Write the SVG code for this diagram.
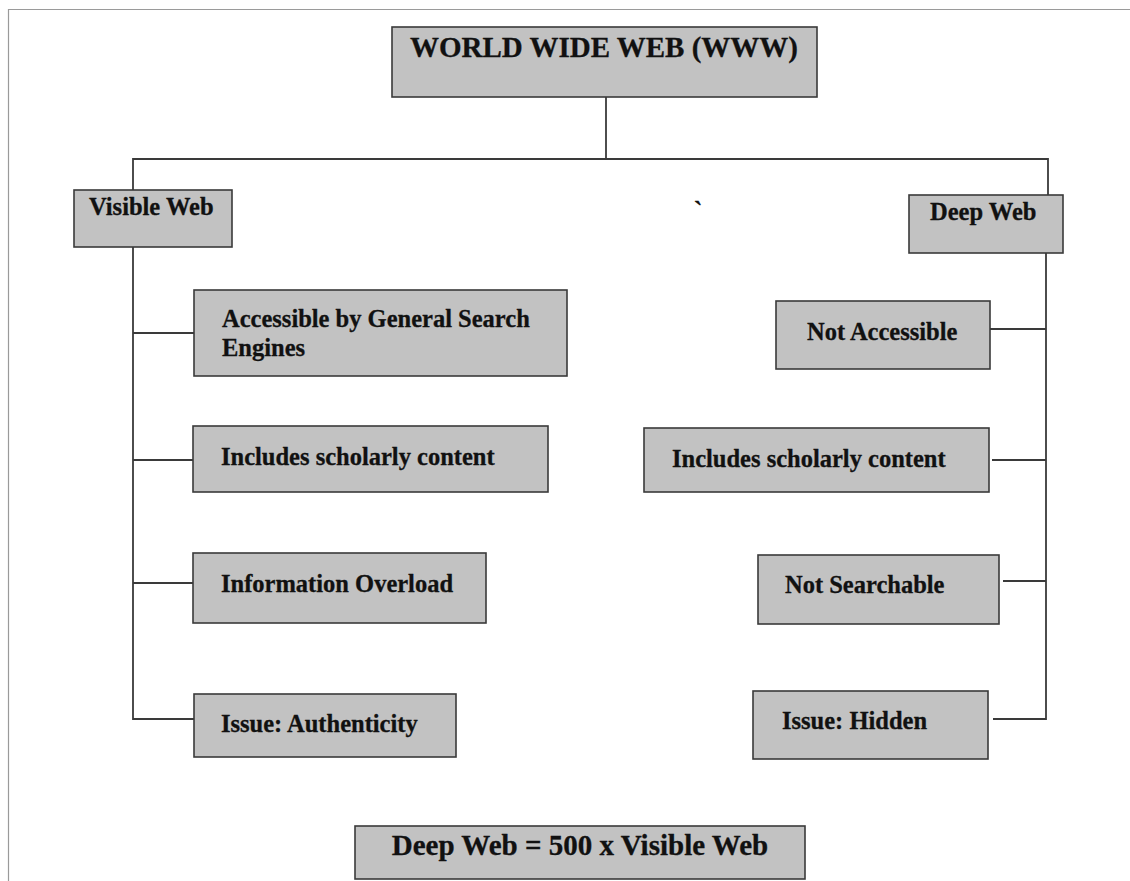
<svg xmlns="http://www.w3.org/2000/svg" width="1130" height="881" viewBox="0 0 1130 881">
  <style>
    .box { fill: #c2c2c2; stroke: #3a3a3a; stroke-width: 1.6; }
    .lbl { font-family: "Liberation Serif", "Times New Roman", serif; font-weight: bold; font-size: 24.5px; fill: #111; stroke: #111; stroke-width: 0.3; }
    .big { font-size: 29px; }
    .wire { fill: none; stroke: #3a3a3a; stroke-width: 1.8; }
    .page { fill: none; stroke: #9a9a9a; stroke-width: 1.2; }
  </style>
  <rect width="1130" height="881" fill="#ffffff"/>
  <!-- page edge -->
  <path class="page" d="M8.5 881 V9.5 H1130"/>

  <!-- connectors -->
  <g id="connectors">
    <path class="wire" d="M606 97 V159"/>
    <path class="wire" d="M133 190 V159 H1048 V195"/>
    <path class="wire" d="M133 247 V719 H194"/>
    <path class="wire" d="M133 333 H194"/>
    <path class="wire" d="M133 460 H193"/>
    <path class="wire" d="M133 583 H193"/>
    <path class="wire" d="M1046 253 V719 H993"/>
    <path class="wire" d="M987 329 H1046"/>
    <path class="wire" d="M992 460 H1046"/>
    <path class="wire" d="M1003 581 H1046"/>
  </g>

  <g id="www">
    <rect class="box" x="392" y="27" width="425" height="70"/>
    <text class="lbl big" x="604" y="57" text-anchor="middle">WORLD WIDE WEB (WWW)</text>
  </g>

  <g id="visible-web">
    <rect class="box" x="74" y="190" width="158" height="57"/>
    <text class="lbl" x="89" y="215">Visible Web</text>
  </g>

  <g id="deep-web">
    <rect class="box" x="909" y="195" width="154" height="58"/>
    <text class="lbl" x="930" y="220">Deep Web</text>
  </g>

  <text class="lbl" x="694" y="219" font-size="22">`</text>

  <g id="v-accessible">
    <rect class="box" x="194" y="290" width="373" height="86"/>
    <text class="lbl" x="222" y="327">Accessible by General Search</text>
    <text class="lbl" x="222" y="356">Engines</text>
  </g>
  <g id="v-scholarly">
    <rect class="box" x="193" y="426" width="355" height="66"/>
    <text class="lbl" x="221" y="465">Includes scholarly content</text>
  </g>
  <g id="v-overload">
    <rect class="box" x="193" y="553" width="293" height="70"/>
    <text class="lbl" x="221" y="592">Information Overload</text>
  </g>
  <g id="v-authenticity">
    <rect class="box" x="194" y="694" width="262" height="63"/>
    <text class="lbl" x="221" y="732">Issue: Authenticity</text>
  </g>

  <g id="d-not-accessible">
    <rect class="box" x="776" y="301" width="214" height="68"/>
    <text class="lbl" x="807" y="340">Not Accessible</text>
  </g>
  <g id="d-scholarly">
    <rect class="box" x="644" y="428" width="345" height="64"/>
    <text class="lbl" x="672" y="467">Includes scholarly content</text>
  </g>
  <g id="d-not-searchable">
    <rect class="box" x="758" y="555" width="241" height="69"/>
    <text class="lbl" x="785" y="593">Not Searchable</text>
  </g>
  <g id="d-hidden">
    <rect class="box" x="753" y="691" width="235" height="68"/>
    <text class="lbl" x="782" y="729">Issue: Hidden</text>
  </g>

  <g id="ratio">
    <rect class="box" x="355" y="826" width="450" height="53"/>
    <text class="lbl big" x="580" y="855" text-anchor="middle">Deep Web = 500 x Visible Web</text>
  </g>
</svg>
